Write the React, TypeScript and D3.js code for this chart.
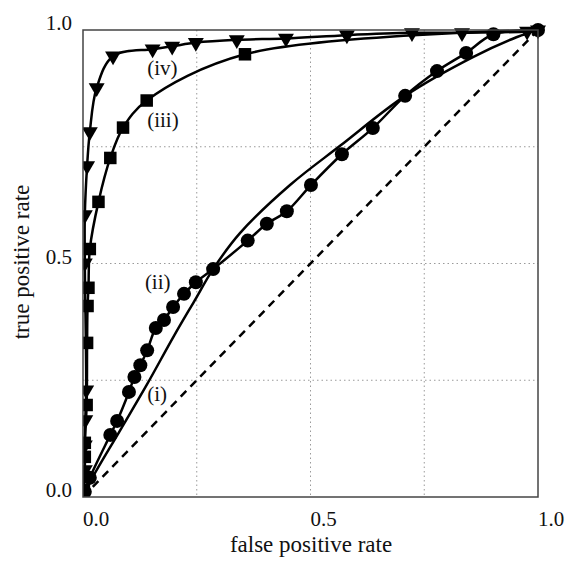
import * as d3 from "d3";

const curveI: [number, number][] = [
  [0.0, 0.0], [0.02, 0.04], [0.08, 0.14], [0.14, 0.24], [0.2, 0.345],
  [0.245, 0.42], [0.286, 0.488], [0.345, 0.565], [0.455, 0.668], [0.565, 0.752],
  [0.708, 0.859], [0.857, 0.942], [0.954, 0.985], [1.0, 1.0],
];

const curveII: [number, number][] = [
  [0.004, 0.011], [0.015, 0.041], [0.06, 0.133], [0.075, 0.163], [0.101, 0.225],
  [0.113, 0.257], [0.126, 0.282], [0.141, 0.314], [0.16, 0.362], [0.178, 0.379],
  [0.198, 0.407], [0.222, 0.435], [0.248, 0.46], [0.286, 0.488], [0.362, 0.549],
  [0.404, 0.585], [0.448, 0.612], [0.501, 0.668], [0.569, 0.734], [0.637, 0.79],
  [0.708, 0.859], [0.778, 0.912], [0.842, 0.951], [0.902, 0.991], [1.0, 1.0],
];

const curveIII: [number, number][] = [
  [0.002, 0.015], [0.004, 0.086], [0.004, 0.116], [0.008, 0.197], [0.009, 0.33],
  [0.01, 0.409], [0.012, 0.448], [0.015, 0.531], [0.034, 0.632], [0.06, 0.726],
  [0.088, 0.791], [0.14, 0.849], [0.356, 0.948], [1.0, 1.0],
];

const curveIV: [number, number][] = [
  [0.0, 0.0], [0.004, 0.058], [0.004, 0.111], [0.005, 0.165], [0.007, 0.229],
  [0.004, 0.501], [0.004, 0.604], [0.009, 0.709], [0.015, 0.782], [0.03, 0.876],
  [0.066, 0.944], [0.153, 0.959], [0.196, 0.965], [0.248, 0.973], [0.338, 0.979],
  [0.446, 0.982], [0.58, 0.989], [0.723, 0.994], [0.833, 0.994], [0.976, 0.997],
  [1.0, 1.0],
];

const gridTicks = [0.25, 0.5, 0.75];
const labelTicks = [0, 0.5, 1];

const curveLabels = [
  { text: "(iv)", x: 0.141, y: 0.904 },
  { text: "(iii)", x: 0.141, y: 0.793 },
  { text: "(ii)", x: 0.136, y: 0.445 },
  { text: "(i)", x: 0.141, y: 0.205 },
];

const W = 570;
const H = 562;
const left = 83;
const right = 538;
const top = 30;
const bottom = 497;
const font = "'Liberation Serif', 'Times New Roman', serif";

export default function App() {
  const x = d3.scaleLinear().domain([0, 1]).range([left, right]);
  const y = d3.scaleLinear().domain([0, 1]).range([bottom, top]);

  const line = d3
    .line<[number, number]>()
    .x((d) => x(d[0]))
    .y((d) => y(d[1]))
    .curve(d3.curveCatmullRom.alpha(0.5));

  const tri = d3.symbol(d3.symbolTriangle, 110)();
  const sq = 12.5;

  return (
    <svg
      width={W}
      height={H}
      style={{ position: "absolute", left: 0, top: 0, background: "#fff" }}
      fontFamily={font}
    >
      <defs>
        <clipPath id="plot">
          <rect x={left} y={top - 8} width={right - left + 8} height={bottom - top + 8} />
        </clipPath>
      </defs>

      {gridTicks.map((t) => (
        <g key={t}>
          <line x1={x(t)} x2={x(t)} y1={top} y2={bottom} stroke="#9a9a9a" strokeWidth={1} strokeDasharray="1.5,3" />
          <line x1={left} x2={right} y1={y(t)} y2={y(t)} stroke="#9a9a9a" strokeWidth={1} strokeDasharray="1.5,3" />
        </g>
      ))}

      <g clipPath="url(#plot)">
        <line x1={x(0)} y1={y(0)} x2={x(1)} y2={y(1)} stroke="#000" strokeWidth={2.5} strokeDasharray="8,6" />

        {[curveI, curveII, curveIII, curveIV].map((c, i) => (
          <path key={i} d={line(c) || ""} fill="none" stroke="#000" strokeWidth={2.5} />
        ))}

        {curveII.map((d, i) => (
          <circle key={"c" + i} cx={x(d[0])} cy={y(d[1])} r={7} fill="#000" />
        ))}
        {curveIII.slice(0, -1).map((d, i) => (
          <rect key={"s" + i} x={x(d[0]) - sq / 2} y={y(d[1]) - sq / 2} width={sq} height={sq} fill="#000" />
        ))}
        {curveIV.slice(1).map((d, i) => (
          <path key={"t" + i} d={tri} transform={`translate(${x(d[0])},${y(d[1])}) rotate(180)`} fill="#000" />
        ))}
      </g>

      <rect x={left} y={top} width={right - left} height={bottom - top} fill="none" stroke="#444" strokeWidth={1.5} />

      {labelTicks.map((t) => (
        <text key={"x" + t} x={x(t)} y={526} fontSize={21} textAnchor="start" fill="#111">
          {t.toFixed(1)}
        </text>
      ))}
      {labelTicks.map((t) => (
        <text key={"y" + t} x={72} y={y(t)} fontSize={21} textAnchor="end" fill="#111">
          {t.toFixed(1)}
        </text>
      ))}

      {curveLabels.map((l) => (
        <text key={l.text} x={x(l.x)} y={y(l.y)} fontSize={21} fill="#111">
          {l.text}
        </text>
      ))}

      <text x={311} y={552} fontSize={23} textAnchor="middle" fill="#111">
        false positive rate
      </text>
      <text transform={`translate(29,${262}) rotate(-90)`} fontSize={23} textAnchor="middle" fill="#111">
        true positive rate
      </text>
    </svg>
  );
}
